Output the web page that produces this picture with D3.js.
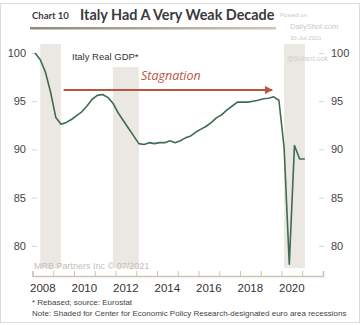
<!DOCTYPE html>
<html>
<head>
<meta charset="utf-8">
<script src="https://cdn.jsdelivr.net/npm/d3@7"></script>
<style>
  body { margin: 0; background: #fff; }
  svg { display: block; font-family: "Liberation Sans", Arial, sans-serif; }
</style>
</head>
<body>
<div id="chart"></div>
<script>
// Italy real GDP, quarterly, rebased 2008Q1 = 100
const quarters = [
  "2008Q1","2008Q2","2008Q3","2008Q4","2009Q1","2009Q2","2009Q3","2009Q4",
  "2010Q1","2010Q2","2010Q3","2010Q4","2011Q1","2011Q2","2011Q3","2011Q4",
  "2012Q1","2012Q2","2012Q3","2012Q4","2013Q1","2013Q2","2013Q3","2013Q4",
  "2014Q1","2014Q2","2014Q3","2014Q4","2015Q1","2015Q2","2015Q3","2015Q4",
  "2016Q1","2016Q2","2016Q3","2016Q4","2017Q1","2017Q2","2017Q3","2017Q4",
  "2018Q1","2018Q2","2018Q3","2018Q4","2019Q1","2019Q2","2019Q3","2019Q4",
  "2020Q1","2020Q2","2020Q3","2020Q4","2021Q1"
];
const gdp = [
  100.0, 99.3, 98.0, 95.9, 93.3, 92.6, 92.8, 93.1,
  93.5, 93.9, 94.5, 95.2, 95.6, 95.7, 95.4, 94.8,
  93.8, 93.0, 92.2, 91.4, 90.6, 90.5, 90.7, 90.6,
  90.7, 90.7, 90.9, 90.7, 90.9, 91.2, 91.4, 91.8,
  92.1, 92.4, 92.8, 93.3, 93.6, 94.1, 94.5, 94.9,
  94.9, 94.9, 95.0, 95.1, 95.25, 95.3, 95.45, 95.1,
  90.2, 78.1, 90.4, 89.0, 89.0
];
// CEPR euro area recessions (decimal years)
const recessions = [[2008.375, 2009.375], [2011.875, 2013.125], [2020.125, 2021.125]];
const yearTicks = d3.range(2008, 2023);
const yearLabels = [2008, 2010, 2012, 2014, 2016, 2018, 2020];
const yTicks = [80, 85, 90, 95, 100];

const W = 363, H = 325;
const svg = d3.select("#chart").append("svg").attr("width", W).attr("height", H);

// quarter label -> mid-quarter decimal year
const toYear = (q) => +q.slice(0, 4) + (+q.slice(5) - 1) / 4 + 0.125;
const series = quarters.map((q, i) => ({ t: toYear(q), v: gdp[i] }));

const x = d3.scaleLinear().domain([2008, 2022]).range([32.5, 323]);
const y = d3.scaleLinear().domain([77.7, 100.93]).range([268, 44]);

// frame
svg.append("rect").attr("x", 0.5).attr("y", 3.5).attr("width", 359).attr("height", 319)
  .attr("fill", "none").attr("stroke", "#dcdcdc");

// title
svg.append("text").attr("x", 32).attr("y", 19).attr("fill", "#3a3a3a")
  .style("font-family", "Lato, sans-serif").style("font-weight", 700).style("font-size", "9.5px")
  .text("Chart 10");
svg.append("text").attr("x", 80).attr("y", 20).attr("fill", "#3a3a3a")
  .style("font-family", "Lato, sans-serif").style("font-weight", 700).style("font-size", "14.4px")
  .text("Italy Had A Very Weak Decade");

const grad = svg.append("defs").append("linearGradient").attr("id", "rule");
grad.append("stop").attr("offset", "0%").attr("stop-color", "#8f897c");
grad.append("stop").attr("offset", "100%").attr("stop-color", "#cfc7b4");
svg.append("rect").attr("x", 30).attr("y", 27).attr("width", 246).attr("height", 2.5)
  .attr("fill", "url(#rule)");

// posted-on stamp
const stamp = svg.append("g").attr("fill", "#c9c9c9").style("font-size", "6px");
stamp.append("text").attr("x", 280).attr("y", 17).text("Posted on");
stamp.append("text").attr("x", 290).attr("y", 29).style("font-size", "7.5px").text("DailyShot.com");
stamp.append("text").attr("x", 290).attr("y", 40).text("30-Jul-2021");

// recession shading
svg.append("g").selectAll("rect").data(recessions).join("rect")
  .attr("x", (d) => x(d[0])).attr("width", (d) => x(d[1]) - x(d[0]))
  .attr("y", y.range()[1]).attr("height", y.range()[0] - y.range()[1])
  .attr("fill", "#ebe8e3");

// white panel behind the series label
svg.append("rect").attr("x", 62).attr("y", 43).attr("width", 88).attr("height", 24).attr("fill", "#fff");
svg.append("text").attr("x", 72).attr("y", 60).attr("fill", "#333").style("font-size", "9.5px")
  .text("Italy Real GDP*");

svg.append("text").attr("x", 287).attr("y", 61).attr("fill", "#cfcfcf").style("font-size", "7px")
  .text("@SoberLook");

// y axes (left & right)
const yAxisL = d3.axisLeft(y).tickValues(yTicks).tickSize(5).tickPadding(6);
const yAxisR = d3.axisRight(y).tickValues(yTicks).tickSize(5).tickPadding(7);
const gl = svg.append("g").attr("transform", "translate(37,0)").call(yAxisL);
const gr = svg.append("g").attr("transform", "translate(319,0)").call(yAxisR);
[gl, gr].forEach((g) => {
  g.select(".domain").remove();
  g.selectAll("line").attr("stroke", "#d5d5d5");
  g.selectAll("text").attr("fill", "#444").style("font-size", "11px");
});

// x axis with ticks pointing up
const gx = svg.append("g").attr("transform", "translate(0,276)")
  .call(d3.axisTop(x).tickValues(yearTicks).tickSize(5).tickFormat(""));
gx.select(".domain").attr("stroke", "#cbc3b3").attr("stroke-width", 1.5);
gx.selectAll("line").attr("stroke", "#cbc3b3");
svg.append("g").selectAll("text").data(yearLabels).join("text")
  .attr("x", (d) => x(d + 0.5)).attr("y", 292).attr("text-anchor", "middle")
  .attr("fill", "#333").style("font-size", "11.5px").text((d) => d);

svg.append("text").attr("x", 34).attr("y", 269).attr("fill", "#c4bfb5").style("font-size", "9px")
  .text("MRB Partners Inc © 07/2021");

// stagnation arrow
const col = "#b8563d";
svg.append("defs").append("marker").attr("id", "head")
  .attr("viewBox", "0 0 10 10").attr("refX", 9).attr("refY", 5)
  .attr("markerWidth", 5.5).attr("markerHeight", 4).attr("orient", "auto")
  .attr("markerUnits", "strokeWidth")
  .append("path").attr("d", "M0,0L10,5L0,10Z").attr("fill", col);
svg.append("line").attr("x1", x(2009.5)).attr("x2", x(2019.55)).attr("y1", 90).attr("y2", 90)
  .attr("stroke", col).attr("stroke-width", 2).attr("marker-end", "url(#head)");
svg.append("text").attr("x", 141).attr("y", 80).attr("fill", col)
  .style("font-family", "'Open Sans', sans-serif").style("font-style", "italic").style("font-size", "12.5px")
  .text("Stagnation");

// GDP line
svg.append("path").datum(series)
  .attr("d", d3.line().x((d) => x(d.t)).y((d) => y(d.v)))
  .attr("fill", "none").attr("stroke", "#3f6b50").attr("stroke-width", 1.6)
  .attr("stroke-linejoin", "round");

// footnotes
const foot = svg.append("g").attr("fill", "#444").style("font-size", "8px");
foot.append("text").attr("x", 32).attr("y", 305).text("* Rebased; source: Eurostat");
foot.append("text").attr("x", 32).attr("y", 316)
  .text("Note: Shaded for Center for Economic Policy Research-designated euro area recessions");
</script>
</body>
</html>
